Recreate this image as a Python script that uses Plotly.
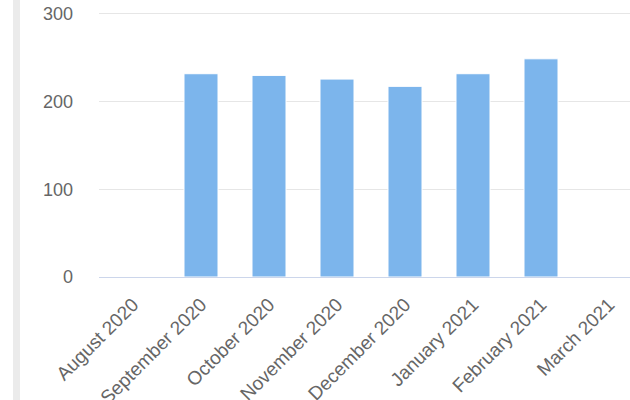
import plotly.graph_objects as go

months = ["August 2020", "September 2020", "October 2020", "November 2020",
          "December 2020", "January 2021", "February 2021", "March 2021"]
values = [None, 231.6, 229.7, 225.5, 217.2, 231.6, 248.6, None]
y_ticks = [0, 100, 200, 300]

W, H = 630, 400
ml, mr, mt, mb = 99, 0, 10, 123
pw = W - ml - mr
ph = H - mt - mb
px_per_unit = (277.3 - 14.0) / 300.0
y_max = ph / px_per_unit

fig = go.Figure()
fig.add_trace(go.Bar(
    x=months, y=values,
    marker=dict(color="#7cb5ec", line=dict(color="#ffffff", width=1)),
    width=0.5,
))

font_family = "Liberation Sans, Arial, sans-serif"
fig.update_layout(
    width=W, height=H,
    margin=dict(l=ml, r=mr, t=mt, b=mb),
    paper_bgcolor="#ffffff", plot_bgcolor="#ffffff",
    showlegend=False,
    font=dict(family=font_family, size=19, color="#666666"),
    xaxis=dict(
        type="category",
        range=[-0.5, -0.5 + pw / 68.0],
        tickangle=-45,
        showgrid=False,
        showline=True, linecolor="#ccd6eb", linewidth=1,
        ticks="", ticklabelstandoff=8,
        tickfont=dict(size=19, color="#666666"),
        automargin=False,
        fixedrange=True,
    ),
    yaxis=dict(
        range=[0, y_max],
        tickvals=y_ticks,
        showgrid=True, gridcolor="#e6e6e6", gridwidth=1,
        zeroline=False, showline=False,
        ticks="", ticklabelstandoff=25,
        tickfont=dict(size=18, color="#666666"),
        automargin=False,
        fixedrange=True,
    ),
    shapes=[dict(
        type="rect", xref="paper", yref="paper",
        x0=(13 - ml) / pw, x1=(20 - ml) / pw,
        y0=-mb / ph, y1=1 + mt / ph,
        fillcolor="#ebebeb", line=dict(width=0), layer="below",
    )],
)

fig.write_html("out.html")
